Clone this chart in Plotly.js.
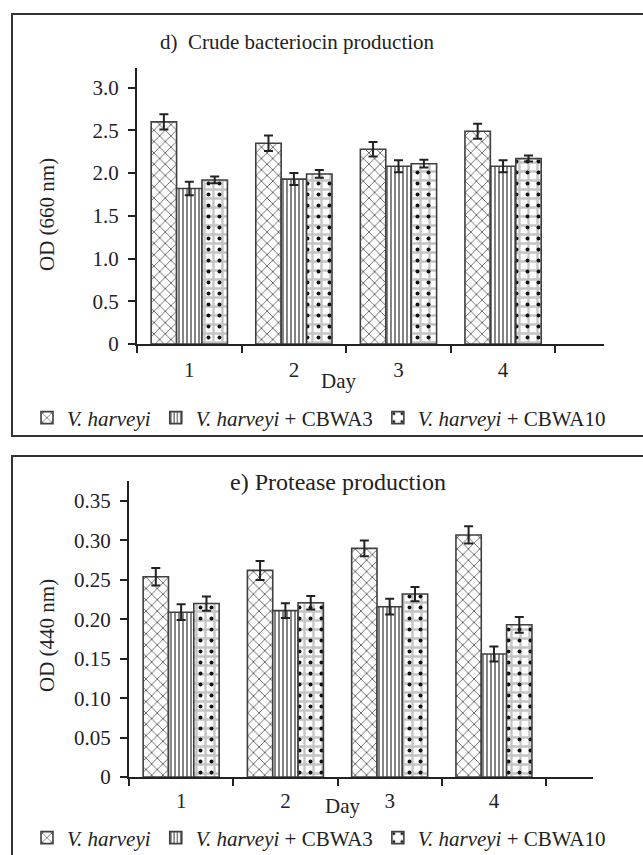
<!DOCTYPE html>
<html>
<head>
<meta charset="utf-8">
<script src="https://cdn.plot.ly/plotly-3.0.1.min.js"></script>
<style>html,body{margin:0;padding:0;background:#fff;}#chart{width:643px;height:855px;}</style>
</head>
<body>
<div id="chart"></div>
<script>
// ---- data ----
const days = ["1", "2", "3", "4"];

// d) Crude bacteriocin production, OD (660 nm)
const bacVh = [2.60, 2.35, 2.28, 2.49];
const bacVhErr = [0.09, 0.09, 0.085, 0.088];
const bacC3 = [1.82, 1.93, 2.08, 2.08];
const bacC3Err = [0.08, 0.07, 0.07, 0.07];
const bacC10 = [1.92, 1.99, 2.11, 2.17];
const bacC10Err = [0.04, 0.045, 0.045, 0.035];
const bacTickVals = [0, 0.5, 1.0, 1.5, 2.0, 2.5, 3.0];
const bacTickText = ["0", "0.5", "1.0", "1.5", "2.0", "2.5", "3.0"];

// e) Protease production, OD (440 nm)
const proVh = [0.254, 0.262, 0.290, 0.307];
const proVhErr = [0.011, 0.012, 0.010, 0.011];
const proC3 = [0.209, 0.211, 0.216, 0.156];
const proC3Err = [0.010, 0.0095, 0.010, 0.0095];
const proC10 = [0.220, 0.221, 0.232, 0.193];
const proC10Err = [0.009, 0.0085, 0.009, 0.010];
const proTickVals = [0, 0.05, 0.10, 0.15, 0.20, 0.25, 0.30, 0.35];
const proTickText = ["0", "0.05", "0.10", "0.15", "0.20", "0.25", "0.30", "0.35"];

const seriesNames = ["<i>V. harveyi</i>", "<i>V. harveyi</i> + CBWA3", "<i>V. harveyi</i> + CBWA10"];

// ---- styles ----
const FONT = "Liberation Serif, Times New Roman, serif";
const INK = "#222222";
const BW = 0.243;
const offsets = [-1.5 * BW, -0.5 * BW, 0.5 * BW];
const outline = {color: "#3f3f3f", width: 1.6};
const errStyle = {type: "data", symmetric: true, color: INK, thickness: 2, width: 4.5};

function panelTraces(vals, errs, xa, ya, legendId) {
  const t = [];
  t.push({type: "bar", x: days, y: vals[0], name: seriesNames[0], xaxis: xa, yaxis: ya, legend: legendId,
    width: BW, offset: offsets[0],
    marker: {color: "#ffffff", line: outline, pattern: {shape: "x", fgcolor: "#555555", bgcolor: "#ffffff", size: 8, solidity: 0.2}},
    error_y: Object.assign({array: errs[0]}, errStyle), hoverinfo: "skip"});
  t.push({type: "bar", x: days, y: vals[1], name: seriesNames[1], xaxis: xa, yaxis: ya, legend: legendId,
    width: BW, offset: offsets[1],
    marker: {color: "#ffffff", line: outline, pattern: {shape: "|", fgcolor: "#333333", bgcolor: "#ffffff", size: 4, solidity: 0.3}},
    error_y: Object.assign({array: errs[1]}, errStyle), hoverinfo: "skip"});
  // weave base for CBWA10
  t.push({type: "bar", x: days, y: vals[2], name: seriesNames[2], xaxis: xa, yaxis: ya, legend: legendId,
    width: BW, offset: offsets[2], showlegend: false,
    marker: {color: "#ffffff", line: {color: "rgba(0,0,0,0)", width: 0}, pattern: {shape: "+", fgcolor: "#c4c4c4", bgcolor: "#ffffff", size: 9, solidity: 0.45}},
    hoverinfo: "skip"});
  // black squares on top for CBWA10
  t.push({type: "bar", x: days, y: vals[2], name: seriesNames[2], xaxis: xa, yaxis: ya, legend: legendId,
    width: BW, offset: offsets[2],
    marker: {color: "rgba(255,255,255,0)", line: outline, pattern: {shape: ".", fgcolor: "#111111", size: 11, solidity: 0.1}},
    error_y: Object.assign({array: errs[2]}, errStyle), hoverinfo: "skip"});
  return t;
}

const data = [].concat(
  panelTraces([bacVh, bacC3, bacC10], [bacVhErr, bacC3Err, bacC10Err], "x", "y", "legend"),
  panelTraces([proVh, proC3, proC10], [proVhErr, proC3Err, proC10Err], "x2", "y2", "legend2")
);

const W = 643, H = 855;
const px = v => v / W;
const py = v => 1 - v / H;

function xAxis(d0, d1, r1, anchor, standoff) {
  return {domain: [px(d0), px(d1)], anchor: anchor, type: "category", range: [-0.5, r1],
    tickson: "boundaries", ticks: "outside", ticklen: 7, tickwidth: 2, tickcolor: INK,
    showline: true, linecolor: INK, linewidth: 2, showgrid: false, zeroline: false,
    tickfont: {family: FONT, size: 21, color: INK}, ticklabelstandoff: standoff, fixedrange: true};
}
function yAxis(d0, d1, r1, anchor, tv, tt) {
  return {domain: [py(d1), py(d0)], anchor: anchor, range: [0, r1], tickmode: "array", tickvals: tv, ticktext: tt,
    ticks: "outside", ticklen: 7, tickwidth: 2, tickcolor: INK,
    showline: true, linecolor: INK, linewidth: 2, showgrid: false, zeroline: false,
    tickfont: {family: FONT, size: 21, color: INK}, ticklabelstandoff: 5, fixedrange: true};
}
function legendAt(yc) {
  return {orientation: "h", x: px(27), xanchor: "left", y: py(yc), yanchor: "middle",
    font: {family: FONT, size: 21, color: INK}, bgcolor: "rgba(0,0,0,0)", borderwidth: 0,
    traceorder: "normal", itemclick: false, itemdoubleclick: false};
}
function ann(text, x, y, size, extra) {
  return Object.assign({text: text, xref: "paper", yref: "paper", x: px(x), y: py(y), xanchor: "left", yanchor: "middle",
    showarrow: false, font: {family: FONT, size: size, color: INK}}, extra || {});
}

const layout = {
  width: W, height: H,
  margin: {l: 0, r: 0, t: 0, b: 0, pad: 0, autoexpand: false},
  paper_bgcolor: "#ffffff", plot_bgcolor: "rgba(0,0,0,0)",
  barmode: "overlay", showlegend: true, hovermode: false,
  font: {family: FONT, color: INK, size: 21},
  xaxis: xAxis(137, 604, 3.965, "y", 6),
  yaxis: yAxis(68, 344, 3.23, "x", bacTickVals, bacTickText),
  xaxis2: xAxis(129, 593, 3.95, "y2", 4),
  yaxis2: yAxis(481, 777, 0.3754, "x2", proTickVals, proTickText),
  legend: legendAt(418),
  legend2: legendAt(838),
  annotations: [
    ann("d)\u00a0 Crude bacteriocin production", 158, 42, 21),
    ann("e) Protease production", 228, 482, 24),
    ann("OD (660 nm)", 47, 215, 21, {xanchor: "center", textangle: -90}),
    ann("OD (440 nm)", 47, 636, 21, {xanchor: "center", textangle: -90}),
    ann("Day", 338, 381, 21, {xanchor: "center"}),
    ann("Day", 342, 806, 21, {xanchor: "center"})
  ],
  shapes: [
    {type: "rect", xref: "paper", yref: "paper", x0: px(12), x1: 1.05, y0: py(436), y1: py(14), line: {color: "#333333", width: 2}, fillcolor: "rgba(0,0,0,0)", layer: "below"},
    {type: "rect", xref: "paper", yref: "paper", x0: px(12), x1: 1.05, y0: -0.05, y1: py(456), line: {color: "#333333", width: 2}, fillcolor: "rgba(0,0,0,0)", layer: "below"}
  ]
};

Plotly.newPlot("chart", data, layout, {staticPlot: true, displayModeBar: false});
</script>
</body>
</html>
